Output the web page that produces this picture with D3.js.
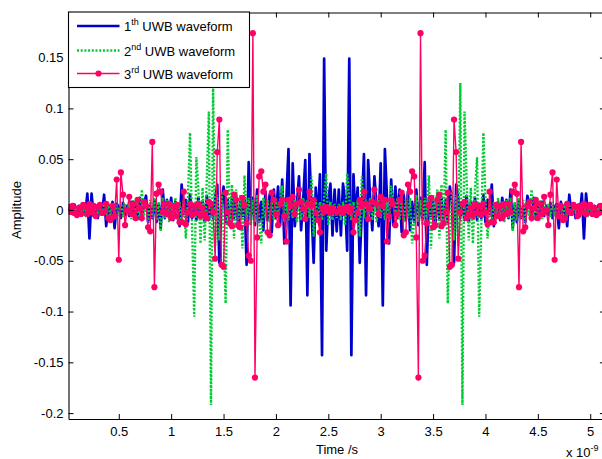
<!DOCTYPE html>
<html><head><meta charset="utf-8">
<script src="https://cdn.jsdelivr.net/npm/d3@7"></script>
<style>
body{margin:0;background:#fff}
svg{display:block}
text{font-family:Arial,"Liberation Sans",sans-serif;fill:#000}
</style>
</head><body>
<svg id="chart" width="602" height="459"></svg>
<script>
// sample times: first sample and step (x 1e-9 s)
const tStart = 0.02, tStep = 0.02;

const wave1 = [
0.000,0.003,-0.004,0.005,-0.006,0.004,-0.003,0.006,-0.005,0.016,
-0.028,0.016,-0.006,0.004,-0.008,0.006,-0.004,0.015,-0.016,0.005,
-0.006,0.008,-0.018,0.006,0.003,-0.008,0.007,-0.005,0.004,-0.006,
0.008,-0.004,0.006,-0.009,0.012,-0.010,0.005,0.014,-0.012,0.004,
-0.008,0.010,-0.012,0.006,-0.018,0.020,-0.008,0.010,-0.006,0.012,
-0.010,0.008,0.004,-0.016,0.025,-0.004,0.010,-0.012,0.015,-0.008,
0.006,-0.010,0.012,-0.006,0.008,-0.012,0.014,-0.010,0.005,-0.008,
0.012,0.025,-0.052,0.008,0.023,-0.012,0.010,-0.015,0.012,-0.008,
0.015,-0.018,0.010,-0.006,0.012,-0.054,0.047,-0.010,0.012,-0.015,
0.020,-0.012,0.008,-0.020,0.018,-0.010,0.015,-0.022,0.020,-0.008,
0.023,-0.015,0.030,-0.033,0.012,0.060,-0.094,0.046,-0.016,0.005,
0.033,-0.020,0.010,0.049,-0.084,0.055,0.000,-0.052,0.022,-0.010,
0.035,-0.143,0.149,-0.040,0.010,0.026,-0.025,0.020,-0.021,
0.020,-0.025,0.026,0.010,-0.040,0.149,-0.143,0.035,
-0.010,0.022,-0.052,0.000,0.055,-0.084,0.049,0.010,-0.020,0.033,
0.005,-0.016,0.046,-0.094,0.060,0.012,-0.033,0.030,-0.015,0.023,
-0.008,0.020,-0.022,0.015,-0.010,0.018,-0.020,0.008,-0.012,0.020,
-0.015,0.012,-0.010,0.047,-0.054,0.012,-0.006,0.010,-0.018,0.015,
-0.008,0.012,-0.015,0.010,-0.012,0.023,0.008,-0.052,0.025,0.012,
-0.008,0.005,-0.010,0.014,-0.012,0.008,-0.006,0.012,-0.010,0.006,
-0.008,0.015,-0.012,0.010,-0.004,0.025,-0.016,0.004,0.008,-0.010,
0.012,-0.006,0.010,-0.008,0.020,-0.018,0.006,-0.012,0.010,-0.008,
0.004,-0.012,0.014,0.005,-0.010,0.012,-0.009,0.006,-0.004,0.008,
-0.006,0.004,-0.005,0.007,-0.008,0.003,0.006,-0.018,0.008,-0.006,
0.005,-0.016,0.015,-0.004,0.006,-0.008,0.004,-0.006,0.016,-0.028,
0.016,-0.005,0.006,-0.003,0.004,-0.006,0.005,-0.004,0.003,0.000
];

const wave2 = [
0.000,0.002,-0.002,0.003,-0.003,0.002,-0.002,0.003,-0.004,0.003,
-0.002,0.004,-0.004,0.003,-0.002,0.004,-0.005,0.004,-0.003,0.005,
-0.006,0.006,-0.004,0.005,-0.006,0.008,-0.007,0.006,-0.005,0.008,
-0.009,0.010,-0.008,0.007,-0.010,0.020,-0.006,0.008,-0.012,0.010,
-0.008,0.012,-0.010,0.008,-0.021,0.012,-0.008,0.010,-0.012,0.008,
-0.006,0.012,-0.010,0.008,-0.014,0.010,-0.028,0.012,0.076,-0.020,
-0.105,0.052,0.020,-0.033,0.022,-0.030,0.030,0.097,-0.192,0.125,
-0.035,0.015,-0.030,0.018,-0.020,-0.092,0.079,-0.015,0.025,-0.028,
0.020,-0.012,0.015,-0.038,0.034,-0.010,0.012,-0.015,0.010,-0.012,
0.015,-0.010,-0.033,0.012,-0.008,0.010,-0.012,0.008,-0.010,0.012,
-0.008,0.010,0.024,-0.012,0.008,-0.010,0.012,-0.008,0.010,-0.012,
0.008,-0.010,0.012,-0.006,0.010,-0.008,0.033,-0.026,0.010,-0.012,
0.008,-0.010,0.012,0.036,-0.015,0.008,-0.010,0.006,-0.008,
0.006,-0.010,0.008,-0.015,0.036,0.012,-0.010,0.008,
-0.012,0.010,-0.026,0.033,-0.008,0.010,-0.006,0.012,-0.010,0.008,
-0.012,0.010,-0.008,0.012,-0.010,0.008,-0.012,0.024,0.010,-0.008,
0.012,-0.010,0.008,-0.012,0.010,-0.008,0.012,-0.033,-0.010,0.015,
-0.012,0.010,-0.015,0.012,-0.010,0.034,-0.038,0.015,-0.012,0.020,
-0.028,0.025,-0.015,0.079,-0.092,-0.020,0.018,-0.030,0.015,-0.035,
0.125,-0.192,0.097,0.030,-0.030,0.022,-0.033,0.020,0.052,-0.105,
-0.020,0.076,0.012,-0.028,0.010,-0.014,0.008,-0.010,0.012,-0.006,
0.008,-0.012,0.010,-0.008,0.012,-0.021,0.008,-0.010,0.012,-0.008,
0.010,-0.012,0.008,-0.006,0.020,-0.010,0.007,-0.008,0.010,-0.009,
0.008,-0.005,0.006,-0.007,0.008,-0.006,0.005,-0.004,0.006,-0.006,
0.005,-0.003,0.004,-0.005,0.004,-0.002,0.003,-0.004,0.004,-0.002,
0.003,-0.004,0.003,-0.002,0.002,-0.003,0.003,-0.002,0.002,0.000
];

const wave3 = [
0.003,-0.002,0.004,-0.003,-0.005,0.002,-0.004,0.005,0.003,-0.004,
0.006,-0.002,0.004,-0.006,0.003,0.005,-0.003,-0.002,0.006,-0.008,
-0.010,0.004,-0.006,0.030,-0.049,0.037,0.015,-0.015,0.000,0.013,
-0.004,0.006,-0.008,0.010,0.002,-0.008,0.008,0.004,-0.017,-0.021,
0.067,-0.076,0.016,0.025,0.018,-0.002,0.006,-0.004,0.006,-0.008,
0.004,-0.006,0.005,-0.012,-0.012,0.018,-0.014,-0.002,0.006,-0.005,
0.004,-0.003,0.006,-0.006,0.002,-0.004,-0.008,0.008,0.006,-0.002,
-0.048,0.057,0.089,-0.054,-0.056,0.017,-0.002,-0.013,-0.016,0.015,
0.010,-0.015,-0.017,0.012,0.005,-0.013,-0.045,-0.050,0.174,-0.165,
-0.027,0.033,0.038,0.018,0.025,-0.022,-0.025,0.017,0.010,-0.004,
-0.015,0.006,0.010,-0.006,-0.031,0.010,0.004,0.013,-0.004,0.006,
0.020,0.008,0.001,-0.009,0.006,0.018,0.004,0.010,-0.003,-0.010,
-0.022,0.002,-0.002,0.003,0.001,-0.003,0.002,-0.001,-0.002,
-0.001,0.002,-0.003,0.001,0.003,-0.002,0.002,-0.022,
-0.010,-0.003,0.010,0.004,0.018,0.006,-0.009,0.001,0.008,0.020,
0.006,-0.004,0.013,0.004,0.010,-0.031,-0.006,0.010,0.006,-0.015,
-0.004,0.010,0.017,-0.025,-0.022,0.025,0.018,0.038,0.033,-0.027,
-0.165,0.174,-0.050,-0.045,-0.013,0.005,0.012,-0.017,-0.015,0.010,
0.015,-0.016,-0.013,-0.002,0.017,-0.056,-0.054,0.089,0.057,-0.048,
-0.002,0.006,0.008,-0.008,-0.004,0.002,-0.006,0.006,-0.003,0.004,
-0.005,0.006,-0.002,-0.014,0.018,-0.012,-0.012,0.005,-0.006,0.004,
-0.008,0.006,-0.004,0.006,-0.002,0.018,0.025,0.016,-0.076,0.067,
-0.021,-0.017,0.004,0.008,-0.008,0.002,0.010,-0.008,0.006,-0.004,
0.013,0.000,-0.015,0.015,0.037,-0.049,0.030,-0.006,0.004,-0.010,
-0.008,0.006,-0.002,-0.003,0.005,0.003,-0.006,0.004,-0.002,0.006,
-0.004,0.003,0.005,-0.004,0.002,-0.005,-0.003,0.004,-0.002,0.003
];

const xTickValues = [0.5,1,1.5,2,2.5,3,3.5,4,4.5,5];
const xTickLabels = ["0.5","1","1.5","2","2.5","3","3.5","4","4.5","5"];
const yTickValues = [-0.2,-0.15,-0.1,-0.05,0,0.05,0.1,0.15];
const yTickLabels = ["-0.2","-0.15","-0.1","-0.05","0","0.05","0.1","0.15"];
const seriesNames = [["1","th"],["2","nd"],["3","rd"]];
const colors = ["#0000cc","#00cc33","#ff0066"];

const svg = d3.select("#chart");
const L = 68.5, R = 604.9, T = 12.5, B = 419;
const x = d3.scaleLinear().domain([0.02, 5.14]).range([L, R]);
const y = d3.scaleLinear().domain([-0.2058, 0.1944]).range([B, T]);

const times = wave1.map((_, i) => tStart + i * tStep);

svg.append("defs").append("clipPath").attr("id","clip")
  .append("rect").attr("x",L).attr("y",T).attr("width",R-L).attr("height",B-T);

const line = d3.line().x((d,i)=>x(times[i])).y(d=>y(d));
const plot = svg.append("g").attr("clip-path","url(#clip)");

plot.append("path").datum(wave1).attr("d",line)
  .attr("fill","none").attr("stroke",colors[0]).attr("stroke-width",2.7).attr("stroke-linejoin","round");
plot.append("path").datum(wave2).attr("d",line)
  .attr("fill","none").attr("stroke",colors[1]).attr("stroke-width",2.4).attr("stroke-dasharray","2,1.7");
plot.append("path").datum(wave3).attr("d",line)
  .attr("fill","none").attr("stroke",colors[2]).attr("stroke-width",1.4);
plot.selectAll("circle.m").data(wave3).enter().append("circle")
  .attr("class","m").attr("cx",(d,i)=>x(times[i])).attr("cy",d=>y(d)).attr("r",3.1)
  .attr("fill",colors[2]);

// axes (MATLAB-style: inward ticks, box)
const fmtX = d => xTickLabels[xTickValues.indexOf(d)];
const fmtY = d => yTickLabels[yTickValues.indexOf(d)];
const ax = svg.append("g").attr("transform",`translate(0,${B})`)
  .call(d3.axisBottom(x).tickValues(xTickValues).tickFormat(fmtX).tickSize(-5).tickSizeOuter(0).tickPadding(8));
const axT = svg.append("g").attr("transform",`translate(0,${T})`)
  .call(d3.axisTop(x).tickValues(xTickValues).tickFormat("").tickSize(-5).tickSizeOuter(0));
const ay = svg.append("g").attr("transform",`translate(${L},0)`)
  .call(d3.axisLeft(y).tickValues(yTickValues).tickFormat(fmtY).tickSize(-5).tickSizeOuter(0).tickPadding(5));
const ayR = svg.append("g").attr("transform",`translate(${R},0)`)
  .call(d3.axisRight(y).tickValues(yTickValues).tickFormat("").tickSize(-5).tickSizeOuter(0));
[ax,axT,ay,ayR].forEach(g=>{
  g.selectAll("path.domain").attr("stroke","#000").attr("stroke-width",1.1);
  g.selectAll(".tick line").attr("stroke","#000");
  g.selectAll("text").attr("font-size",13).attr("font-family","Arial, 'Liberation Sans', sans-serif").attr("fill","#000");
});

// axis labels
svg.append("text").attr("x",337).attr("y",454).attr("text-anchor","middle")
  .attr("font-size",13).text("Time /s");
svg.append("text").attr("transform","translate(21,210) rotate(-90)").attr("text-anchor","middle")
  .attr("font-size",13).text("Amplitude");
const ex = svg.append("text").attr("x",566).attr("y",457).attr("font-size",13);
ex.append("tspan").text("x 10");
ex.append("tspan").attr("dy",-6).attr("font-size",9).text("-9");

// legend
const lg = svg.append("g");
lg.append("rect").attr("x",68.5).attr("y",12).attr("width",181).attr("height",75.5)
  .attr("fill","#fff").attr("stroke","#000").attr("stroke-width",1.1);
const rowsY = [26, 50.5, 73.5];
seriesNames.forEach((s,i)=>{
  const yy = rowsY[i];
  const ln = lg.append("line").attr("x1",77).attr("x2",119.5).attr("y1",yy).attr("y2",yy)
    .attr("stroke",colors[i]);
  if(i===0) ln.attr("stroke-width",2.7);
  if(i===1) ln.attr("stroke-width",2.4).attr("stroke-dasharray","2,1.7");
  if(i===2){ ln.attr("stroke-width",1.4);
    lg.append("circle").attr("cx",98.5).attr("cy",yy).attr("r",3.1).attr("fill",colors[2]); }
  const t = lg.append("text").attr("x",124).attr("y",yy+5).attr("font-size",13);
  t.append("tspan").text(s[0]);
  t.append("tspan").attr("dy",-6).attr("font-size",9).text(s[1]);
  t.append("tspan").attr("dy",6).text(" UWB waveform");
});
</script>
</body></html>
